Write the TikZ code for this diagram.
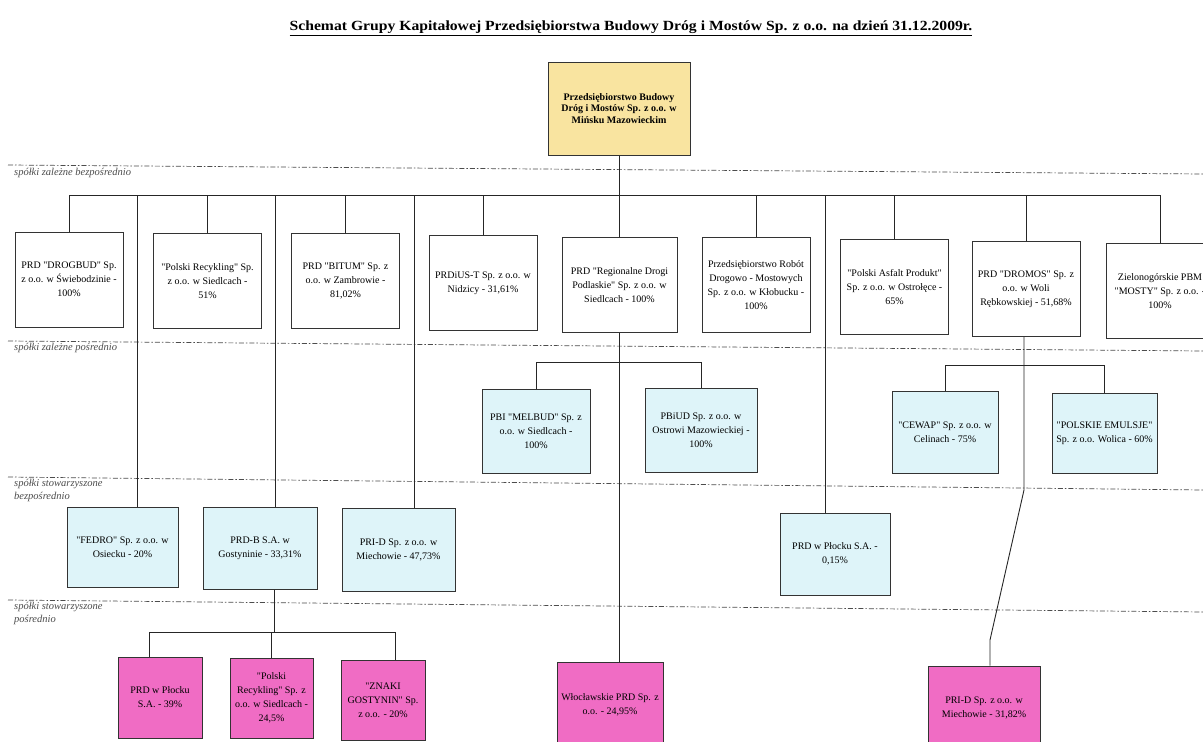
\documentclass[tikz,border=0pt]{standalone}
\usepackage{fontspec}
\setmainfont{Liberation Serif}[Ligatures=TeXOff]
\usepackage{tikz}

\definecolor{topfill}{RGB}{249,228,160}
\definecolor{bluefill}{RGB}{222,244,249}
\definecolor{pinkfill}{RGB}{240,108,196}

\begin{document}
\begin{tikzpicture}[x=1pt, y=-1pt,
    firm/.style={draw=black!80, line width=1pt, align=center, inner sep=1pt,
        font=\fontsize{10}{14}\selectfont},
    ceobox/.style={firm, fill=topfill, minimum width=142pt, minimum height=93pt,
        font=\bfseries\fontsize{10}{11.5}\selectfont},
    directbox/.style={firm, fill=white, minimum width=108pt, minimum height=95pt},
    indirectbox/.style={firm, fill=bluefill, minimum width=108pt, minimum height=84pt},
    assocbox/.style={firm, fill=bluefill, minimum width=112pt, minimum height=82pt},
    assocpbox/.style={firm, fill=pinkfill, minimum width=84pt, minimum height=81pt},
    level/.style={black!70, line width=0.7pt, dash pattern=on 5pt off 2pt on 1.5pt off 2pt},
    levellabel/.style={anchor=north west, align=left, inner sep=0pt, text=black!70,
        font=\itshape\fontsize{10.5}{13}\selectfont},
    link/.style={black!85, line width=0.9pt}]
    \useasboundingbox (0,0) rectangle (1203,742);
    \fill[white] (0,0) rectangle (1203,742);
    \clip (0,0) rectangle (1203,742);

    \node (title) at (631,28) {\scalebox{1.12}[1]{\bfseries\fontsize{14}{16}\selectfont\underline{Schemat Grupy Kapitałowej Przedsiębiorstwa Budowy Dróg i Mostów Sp. z o.o. na dzień 31.12.2009r.}}};

    \draw[level] (8,165) -- (1203,174);
    \draw[level] (8,341) -- (1203,351);
    \draw[level] (8,477) -- (1203,490);
    \draw[level] (8,600) -- (1203,612);
    \node[levellabel] (lab1) at (14,168) {spółki zależne bezpośrednio};
    \node[levellabel] (lab2) at (14,343) {spółki zależne pośrednio};
    \node[levellabel] (lab3) at (14,479) {spółki stowarzyszone\\bezpośrednio};
    \node[levellabel] (lab4) at (14,602) {spółki stowarzyszone\\pośrednio};

    \node[ceobox] (ceo) at (619,108.5) {Przedsiębiorstwo Budowy\\Dróg i Mostów Sp. z o.o. w\\Mińsku Mazowieckim};

    \node[directbox] (drogbud) at (69,279.5) {PRD "DROGBUD" Sp.\\z o.o. w Świebodzinie -\\100\%};
    \node[directbox] (recykling) at (207.5,281) {"Polski Recykling" Sp.\\z o.o. w Siedlcach -\\51\%};
    \node[directbox] (bitum) at (345.5,281) {PRD "BITUM" Sp. z\\o.o. w Zambrowie -\\81,02\%};
    \node[directbox] (prdius) at (483,283) {PRDiUS-T Sp. z o.o. w\\Nidzicy - 31,61\%};
    \node[directbox, minimum width=115pt] (regionalne) at (619.5,285) {PRD "Regionalne Drogi\\Podlaskie" Sp. z o.o. w\\Siedlcach - 100\%};
    \node[directbox] (klobuck) at (756,285) {Przedsiębiorstwo Robót\\Drogowo - Mostowych\\Sp. z o.o. w Kłobucku -\\100\%};
    \node[directbox] (asfalt) at (894.5,287) {"Polski Asfalt Produkt"\\Sp. z o.o. w Ostrołęce -\\65\%};
    \node[directbox] (dromos) at (1026,289) {PRD "DROMOS" Sp. z\\o.o. w Woli\\Rębkowskiej - 51,68\%};
    \node[directbox] (mosty) at (1160,291) {Zielonogórskie PBM\\"MOSTY" Sp. z o.o. -\\100\%};

    \node[indirectbox] (melbud) at (536,431) {PBI "MELBUD" Sp. z\\o.o. w Siedlcach -\\100\%};
    \node[indirectbox, minimum width=112pt] (pbiud) at (701,430) {PBiUD Sp. z o.o. w\\Ostrowi Mazowieckiej -\\100\%};
    \node[indirectbox, minimum width=106pt, minimum height=82pt] (cewap) at (945,432) {"CEWAP" Sp. z o.o. w\\Celinach - 75\%};
    \node[indirectbox, minimum width=105pt, minimum height=80pt] (emulsje) at (1104.5,433) {"POLSKIE EMULSJE"\\Sp. z o.o. Wolica - 60\%};

    \node[assocbox, minimum width=111pt, minimum height=80pt] (fedro) at (122.5,547) {"FEDRO" Sp. z o.o. w\\Osiecku - 20\%};
    \node[assocbox, minimum width=114pt] (prdb) at (260,548) {PRD-B S.A. w\\Gostyninie - 33,31\%};
    \node[assocbox, minimum width=113pt, minimum height=83pt] (prid) at (398.5,549.5) {PRI-D Sp. z o.o. w\\Miechowie - 47,73\%};
    \node[assocbox, minimum width=110pt] (plock) at (835,554) {PRD w Płocku S.A. -\\0,15\%};

    \node[assocpbox] (plockb) at (160,697.5) {PRD w Płocku\\S.A. - 39\%};
    \node[assocpbox, minimum width=83pt, minimum height=80pt] (recyklingb) at (271.5,698) {"Polski\\Recykling" Sp. z\\o.o. w Siedlcach -\\24,5\%};
    \node[assocpbox, minimum height=80pt] (znaki) at (383,700) {"ZNAKI\\GOSTYNIN" Sp.\\z o.o. - 20\%};
    \node[assocpbox, minimum width=106pt, minimum height=86pt] (wloclawek) at (610,705) {Włocławskie PRD Sp. z\\o.o. - 24,95\%};
    \node[assocpbox, minimum width=112pt, minimum height=84pt] (pridb) at (984,708) {PRI-D Sp. z o.o. w\\Miechowie - 31,82\%};

    \coordinate (busW) at (69,195);
    \coordinate (busE) at (1160,195);
    \coordinate (dropA) at (137,195);
    \coordinate (dropB) at (275,195);
    \coordinate (dropC) at (414,195);
    \coordinate (dropD) at (825,195);
    \coordinate (forkR) at (620,362);
    \coordinate (forkD) at (1024,365);
    \coordinate (bendD) at (1024,490);
    \coordinate (landD) at (990,640);
    \coordinate (forkB) at (274,632);
    \coordinate (tapA) at (149,632);
    \coordinate (tapC) at (395,632);

    \draw[link] (ceo.south) -- (ceo.south |- busW);
    \draw[link] (busW) -- (busE);
    \foreach \n in {drogbud, recykling, bitum, prdius, regionalne, klobuck, asfalt, dromos, mosty}
        \draw[link] (\n.north) -- (\n.north |- busW);
    \draw[link] (dropA) -- (dropA |- fedro.north);
    \draw[link] (dropB) -- (dropB |- prdb.north);
    \draw[link] (dropC) -- (dropC |- prid.north);
    \draw[link] (dropD) -- (dropD |- plock.north);

    \draw[link] (regionalne.south) -- (regionalne.south |- wloclawek.north);
    \draw[link] (melbud.north |- forkR) -- (pbiud.north |- forkR);
    \draw[link] (melbud.north) -- (melbud.north |- forkR);
    \draw[link] (pbiud.north) -- (pbiud.north |- forkR);

    \draw[link] (dromos.south -| forkD) -- (bendD) -- (landD) -- (landD |- pridb.north);
    \draw[link] (cewap.north |- forkD) -- (emulsje.north |- forkD);
    \draw[link] (cewap.north) -- (cewap.north |- forkD);
    \draw[link] (emulsje.north) -- (emulsje.north |- forkD);

    \draw[link] (forkB |- prdb.south) -- (forkB);
    \draw[link] (tapA) -- (tapC);
    \draw[link] (tapA) -- (tapA |- plockb.north);
    \draw[link] (recyklingb.north) -- (recyklingb.north |- forkB);
    \draw[link] (tapC) -- (tapC |- znaki.north);
\end{tikzpicture}
\end{document}
